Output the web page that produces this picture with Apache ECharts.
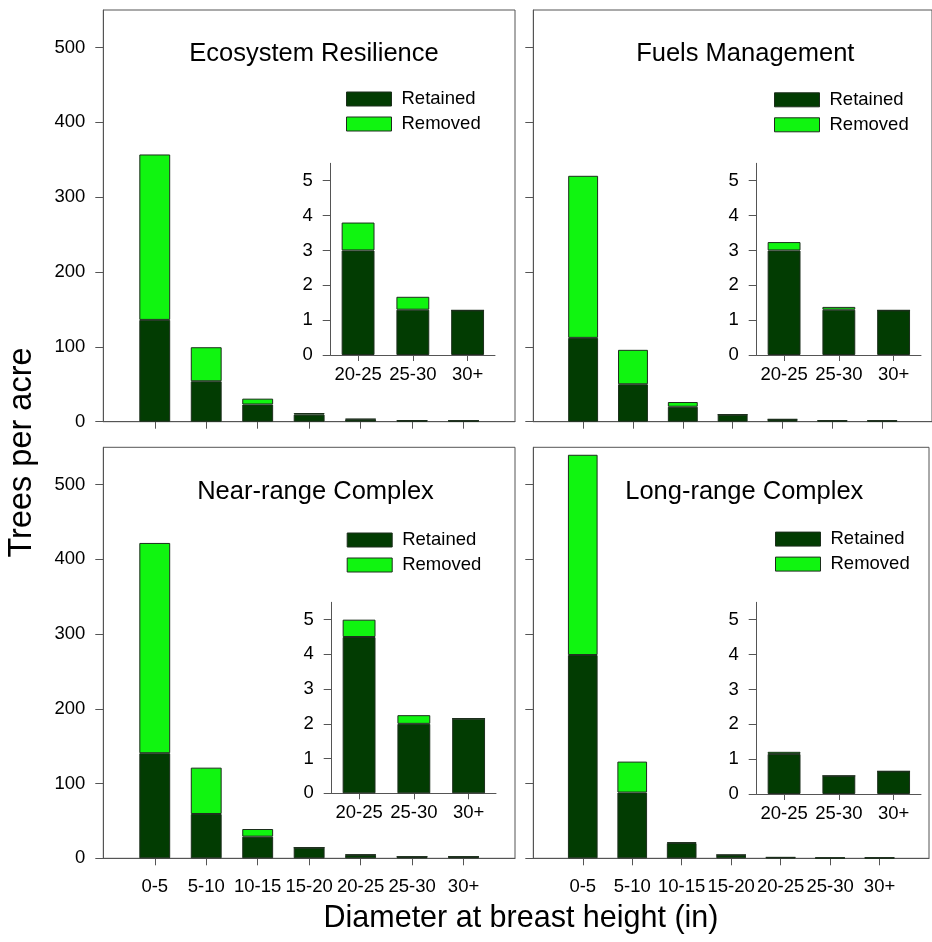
<!DOCTYPE html>
<html><head><meta charset="utf-8">
<script src="https://cdn.jsdelivr.net/npm/echarts@6/dist/echarts.min.js"></script>
<style>html,body{margin:0;padding:0;background:#fff}#c{width:932px;height:942px}</style>
</head><body><div id="c"></div>
<script>
// ---- data ----
const categories = ['0-5', '5-10', '10-15', '15-20', '20-25', '25-30', '30+'];
const insetCategories = ['20-25', '25-30', '30+'];
const seriesNames = ['Retained', 'Removed'];
const panelTitles = ['Ecosystem Resilience', 'Fuels Management', 'Near-range Complex', 'Long-range Complex'];
const yTicks = [0, 100, 200, 300, 400, 500];
const insetYTicks = [0, 1, 2, 3, 4, 5];
const xAxisTitle = 'Diameter at breast height (in)';
const yAxisTitle = 'Trees per acre';

const retainedEcosystem = [136, 54, 23, 9.5, 3.0, 1.3, 1.28];
const removedEcosystem  = [221, 45.5, 7.8, 2.1, 0.8, 0.37, 0];
const retainedFuels     = [112, 50, 20, 9.4, 3.0, 1.3, 1.28];
const removedFuels      = [216.5, 46, 6.3, 0, 0.24, 0.08, 0];
const retainedNear      = [140.6, 59.3, 29, 14.2, 4.5, 2.0, 2.15];
const removedNear       = [281.4, 62, 10.2, 0, 0.5, 0.25, 0];
const retainedLong      = [272, 88, 20.4, 4.5, 1.15, 0.52, 0.65];
const removedLong       = [268, 41.4, 1, 0, 0.06, 0, 0];

// ---- layout & style ----
const FONT = "'Liberation Sans', Arial, sans-serif";
const DARK = '#023c02', LIGHT = '#10f510', EDGE = '#1c2e1c', AXIS = '#555';
const panels = [
  { title: panelTitles[0], ret: retainedEcosystem, rem: removedEcosystem, main: { left: 103.3, top: 10, width: 411.7, height: 411.7 }, inset: { left: 330.7, top: 163.3, width: 164.3, height: 191.7 }, titlePos: [314, 53.5], legendPos: [346, 89.5], yLabels: true, xLabels: false },
  { title: panelTitles[1], ret: retainedFuels, rem: removedFuels, main: { left: 533.3, top: 10, width: 411.7, height: 411.7 }, inset: { left: 756.7, top: 163.3, width: 164.3, height: 191.7 }, titlePos: [745.3, 53.5], legendPos: [774, 90.3], yLabels: false, xLabels: false },
  { title: panelTitles[2], ret: retainedNear, rem: removedNear, main: { left: 103.3, top: 447.3, width: 411.7, height: 411 }, inset: { left: 331.7, top: 602.3, width: 164.3, height: 191 }, titlePos: [315.5, 491.7], legendPos: [346.7, 530.5], yLabels: true, xLabels: true },
  { title: panelTitles[3], ret: retainedLong, rem: removedLong, main: { left: 533.3, top: 447.3, width: 411.7, height: 411 }, inset: { left: 756.7, top: 602.3, width: 164.3, height: 191.7 }, titlePos: [744.3, 491.7], legendPos: [775, 529.6], yLabels: false, xLabels: true }
];

const grid = [], xAxis = [], yAxis = [], series = [], title = [], legend = [];
const labelStyle = { color: '#000', fontFamily: FONT, fontSize: 18.5 };

panels.forEach((p, i) => {
  // main grid
  grid.push(Object.assign({ show: true, borderColor: AXIS, borderWidth: 1, backgroundColor: 'transparent', containLabel: false }, p.main));
  const mi = grid.length - 1;
  xAxis.push({
    type: 'category', gridIndex: mi, data: [''].concat(categories, ['']), boundaryGap: false,
    axisLine: { show: true, lineStyle: { color: AXIS } },
    axisTick: { show: true, inside: false, length: 7, lineStyle: { color: AXIS }, interval: (idx, val) => val !== '' },
    axisLabel: Object.assign({ show: p.xLabels, interval: 0, margin: 19 }, labelStyle),
    splitLine: { show: false }
  });
  yAxis.push({
    type: 'value', gridIndex: mi, min: 0, max: 550, interval: 100,
    axisLine: { show: true, lineStyle: { color: AXIS } },
    axisTick: { show: true, inside: false, length: 8, lineStyle: { color: AXIS }, customValues: yTicks },
    axisLabel: Object.assign({ show: p.yLabels, margin: 18, customValues: yTicks }, labelStyle),
    splitLine: { show: false }
  });
  // inset grid
  grid.push(Object.assign({ show: false, containLabel: false }, p.inset));
  const ii = grid.length - 1;
  xAxis.push({
    type: 'category', gridIndex: ii, data: insetCategories, boundaryGap: true,
    axisLine: { show: true, lineStyle: { color: AXIS } },
    axisTick: { show: true, alignWithLabel: true, length: 6, lineStyle: { color: AXIS } },
    axisLabel: Object.assign({ interval: 0, margin: 10 }, labelStyle),
    splitLine: { show: false }
  });
  yAxis.push({
    type: 'value', gridIndex: ii, min: 0, max: 5.5, interval: 1,
    axisLine: { show: true, lineStyle: { color: AXIS } },
    axisTick: { show: true, length: 8, lineStyle: { color: AXIS }, customValues: insetYTicks },
    axisLabel: Object.assign({ margin: 18, customValues: insetYTicks }, labelStyle),
    splitLine: { show: false }
  });
  const vals = [p.ret, p.rem];
  seriesNames.forEach((name, s) => {
    const style = { color: s === 0 ? DARK : LIGHT, borderColor: EDGE, borderWidth: 1 };
    series.push({
      name, type: 'bar', xAxisIndex: mi, yAxisIndex: mi, stack: 'main' + i, barWidth: '60%',
      itemStyle: style, emphasis: { disabled: true },
      data: categories.map((c, j) => [c, vals[s][j]])
    });
    series.push({
      name, type: 'bar', xAxisIndex: ii, yAxisIndex: ii, stack: 'inset' + i, barWidth: '60%',
      itemStyle: style, emphasis: { disabled: true },
      data: insetCategories.map(c => [c, vals[s][categories.indexOf(c)]])
    });
  });
  title.push({
    text: p.title, left: p.titlePos[0], top: p.titlePos[1], textAlign: 'center', textVerticalAlign: 'middle', padding: 0,
    textStyle: { color: '#000', fontFamily: FONT, fontSize: 25.5, fontWeight: 'normal' }
  });
  legend.push({
    data: seriesNames, orient: 'vertical', left: p.legendPos[0], top: p.legendPos[1], padding: 0,
    itemWidth: 45, itemHeight: 14, itemGap: 6, icon: 'rect', selectedMode: false,
    itemStyle: { borderWidth: 1, borderColor: EDGE },
    textStyle: { color: '#000', fontFamily: FONT, fontSize: 18.5, lineHeight: 18, padding: [0, 0, 0, 5] }
  });
});

const chart = echarts.init(document.getElementById('c'), null, { renderer: 'canvas' });
chart.setOption({
  animation: false,
  backgroundColor: '#fff',
  title, legend, grid, xAxis, yAxis, series,
  graphic: [
    { type: 'text', x: 521, y: 919, style: { text: xAxisTitle, fill: '#000', font: '30.5px ' + FONT, textAlign: 'center', textVerticalAlign: 'middle' } },
    { type: 'text', x: 22, y: 452.5, rotation: Math.PI / 2, style: { text: yAxisTitle, fill: '#000', font: '32.5px ' + FONT, textAlign: 'center', textVerticalAlign: 'middle' } }
  ]
});
</script></body></html>
